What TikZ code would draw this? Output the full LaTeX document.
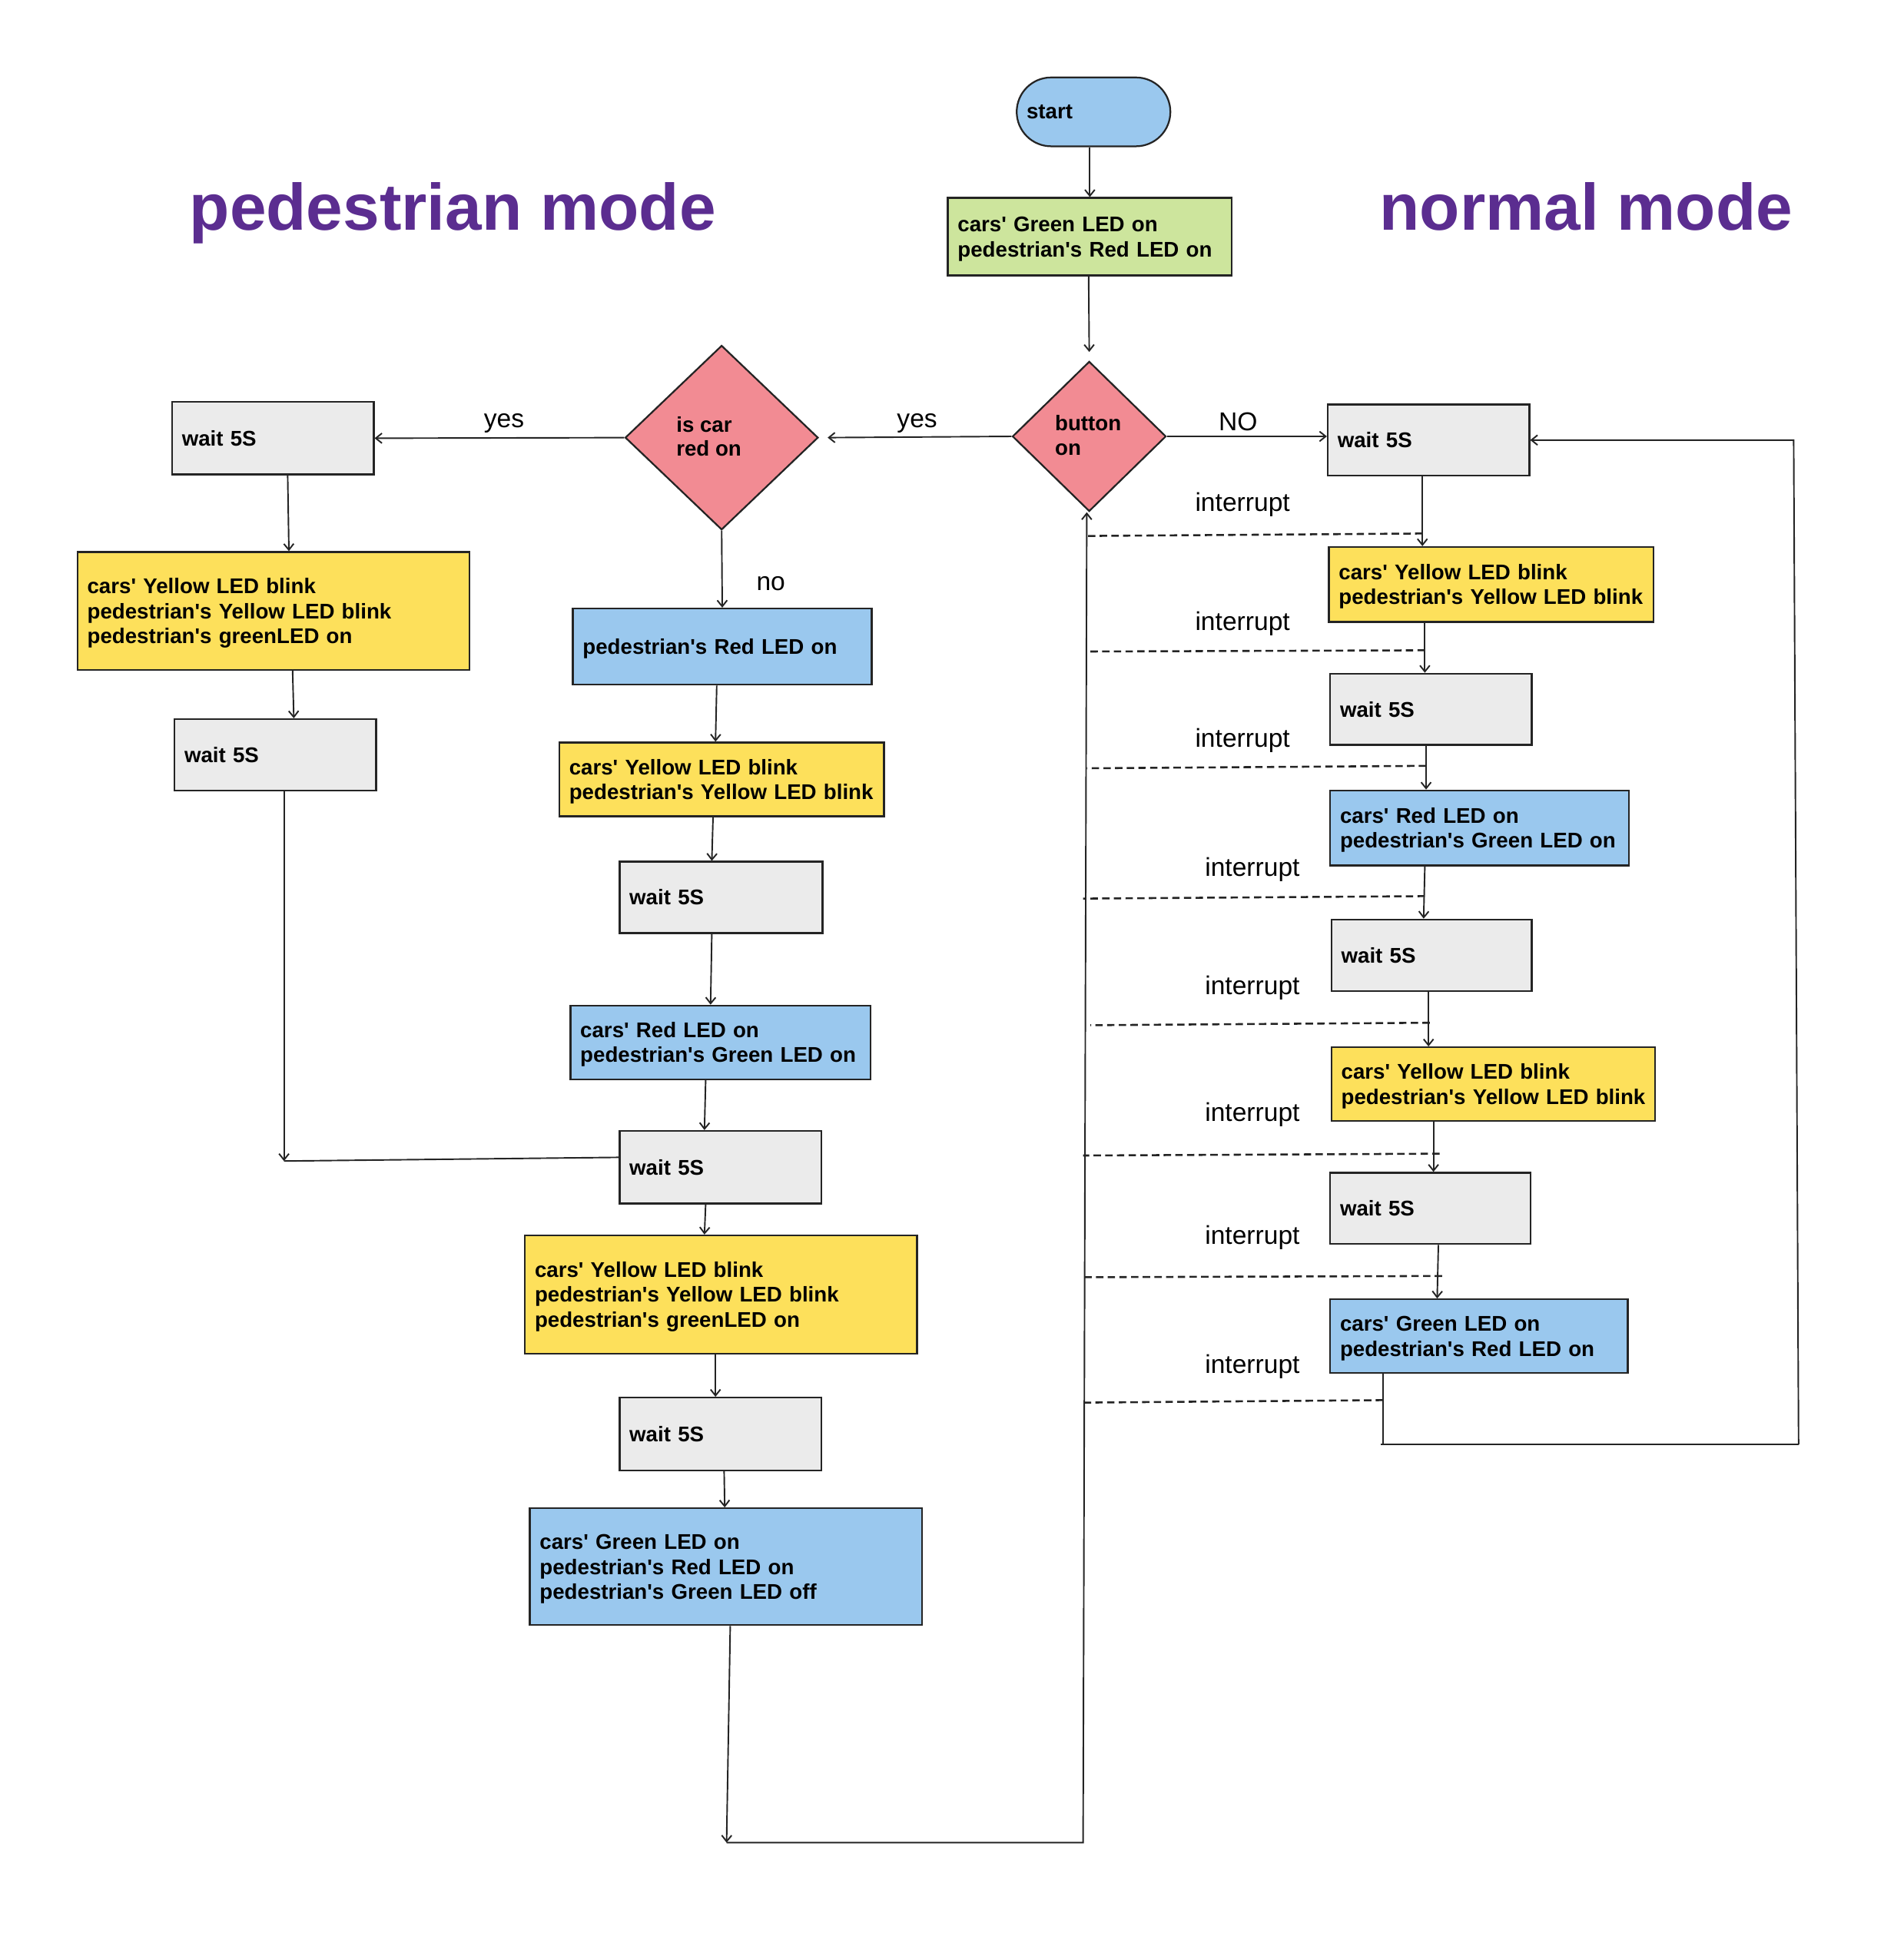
\documentclass[tikz,border=0pt]{standalone}
\usepackage{fontspec}
\setmainfont{Liberation Sans}
\usetikzlibrary{shapes.geometric,arrows.meta}
\definecolor{cblue}{HTML}{9AC8EE}
\definecolor{cgreen}{HTML}{CDE59D}
\definecolor{cyellow}{HTML}{FDE05B}
\definecolor{cgray}{HTML}{EBEBEB}
\definecolor{cpink}{HTML}{F28B93}
\definecolor{cstroke}{HTML}{242424}
\definecolor{cpurple}{HTML}{5B2D90}
\newcommand{\ap}{\textquotesingle}
\begin{document}
\begin{tikzpicture}[x=1pt,y=-1pt,
  box/.style={draw=cstroke, line width=1.4pt, rectangle, inner xsep=8pt, inner ysep=0pt,
    align=left, font=\bfseries\fontsize{17.3}{20.2}\selectfont, text=black},
  ml/.style={execute at begin node={\rule{0pt}{16pt}}},
  dia/.style={draw=cstroke, line width=1.4pt, diamond, fill=cpink, inner sep=0pt},
  dtxt/.style={align=left, inner sep=0pt, font=\bfseries\fontsize{17.3}{19.8}\selectfont, anchor=west},
  lbl/.style={font=\fontsize{21}{24}\selectfont, inner sep=0pt},
  ttl/.style={font=\bfseries\fontsize{53.5}{60}\selectfont, text=cpurple, inner sep=0pt, anchor=base west},
  conn/.style={draw=cstroke, line width=1.2pt},
  arr/.style={conn, -{Straight Barb[length=5pt,width=8pt]}},
  dsh/.style={draw=cstroke, line width=1.6pt, dash pattern=on 6pt off 3.5pt}
]
\useasboundingbox (0,0) rectangle (1548.75,1572.5);

% titles
\node[ttl] (t1) at (154,187) {pedestrian mode};
\node[ttl] (t2) at (1122,187) {normal mode};

% top
\node[box, fill=cblue, rounded corners=28pt, minimum width=125pt, minimum height=56pt, text width=109pt] (start) at (889.5,91) {start};
\node[box, ml, fill=cgreen, minimum width=231pt, minimum height=63pt, text width=215pt] (G) at (886.5,192.5) {cars\ap{} Green LED on\\pedestrian\ap{}s Red LED on};

% diamonds
\node[dia, minimum width=125pt, minimum height=122pt] (btn) at (886,355) {};
\node[dtxt] (btnt) at (858,354) {button\\on};
\node[dia, minimum width=157pt, minimum height=150pt] (car) at (587,356) {};
\node[dtxt] (cart) at (550,355) {is car\\red on};

% left column
\node[box, fill=cgray, minimum width=164pt, minimum height=59pt, text width=148pt] (Lw1) at (222,356.5) {wait 5S};
\node[box, ml, fill=cyellow, minimum width=319pt, minimum height=96pt, text width=303pt] (Ly) at (222.5,497) {cars\ap{} Yellow LED blink\\pedestrian\ap{}s Yellow LED blink\\pedestrian\ap{}s greenLED on};
\node[box, fill=cgray, minimum width=164pt, minimum height=58pt, text width=148pt] (Lw2) at (224,614) {wait 5S};

% center column
\node[box, ml, fill=cblue, minimum width=243pt, minimum height=62pt, text width=227pt] (C1) at (587.5,526) {pedestrian\ap{}s Red LED on};
\node[box, ml, fill=cyellow, minimum width=264pt, minimum height=60pt, text width=248pt] (C2) at (587,634) {cars\ap{} Yellow LED blink\\\mbox{pedestrian\ap{}s Yellow LED blink}};
\node[box, fill=cgray, minimum width=165pt, minimum height=58pt, text width=149pt] (C3) at (586.5,730) {wait 5S};
\node[box, ml, fill=cblue, minimum width=244pt, minimum height=60pt, text width=228pt] (C4) at (586,848) {cars\ap{} Red LED on\\pedestrian\ap{}s Green LED on};
\node[box, fill=cgray, minimum width=164pt, minimum height=59pt, text width=148pt] (C5) at (586,949.5) {wait 5S};
\node[box, ml, fill=cyellow, minimum width=319pt, minimum height=96pt, text width=303pt] (C6) at (586.5,1053) {cars\ap{} Yellow LED blink\\pedestrian\ap{}s Yellow LED blink\\pedestrian\ap{}s greenLED on};
\node[box, fill=cgray, minimum width=164pt, minimum height=59pt, text width=148pt] (C7) at (586,1166.5) {wait 5S};
\node[box, ml, fill=cblue, minimum width=319pt, minimum height=95pt, text width=303pt] (C8) at (590.5,1274.5) {cars\ap{} Green LED on\\pedestrian\ap{}s Red LED on\\pedestrian\ap{}s Green LED off};

% right column
\node[box, fill=cgray, minimum width=164pt, minimum height=58pt, text width=148pt] (R1) at (1162,358) {wait 5S};
\node[box, ml, fill=cyellow, minimum width=264pt, minimum height=61pt, text width=248pt] (R2) at (1213,475.5) {cars\ap{} Yellow LED blink\\\mbox{pedestrian\ap{}s Yellow LED blink}};
\node[box, fill=cgray, minimum width=164pt, minimum height=58pt, text width=148pt] (R3) at (1164,577) {wait 5S};
\node[box, ml, fill=cblue, minimum width=243pt, minimum height=61pt, text width=227pt] (R4) at (1203.5,673.5) {cars\ap{} Red LED on\\pedestrian\ap{}s Green LED on};
\node[box, fill=cgray, minimum width=163pt, minimum height=58pt, text width=147pt] (R5) at (1164.5,777) {wait 5S};
\node[box, ml, fill=cyellow, minimum width=263pt, minimum height=60pt, text width=247pt] (R6) at (1214.5,882) {cars\ap{} Yellow LED blink\\\mbox{pedestrian\ap{}s Yellow LED blink}};
\node[box, fill=cgray, minimum width=163pt, minimum height=58pt, text width=147pt] (R7) at (1163.5,983) {wait 5S};
\node[box, ml, fill=cblue, minimum width=242pt, minimum height=60pt, text width=226pt] (R8) at (1203,1087) {cars\ap{} Green LED on\\pedestrian\ap{}s Red LED on};

% connectors top
\draw[arr] ([xshift=-3pt]start.south) -- (G.north);
\draw[arr] ([xshift=-1pt]G.south) -- ([yshift=7pt]btn.north);
\draw[arr] (btn.west) -- ([xshift=7pt]car.east);
\draw[arr] (btn.east) -- ([yshift=3pt]R1.west);
\draw[arr] (car.west) -- (Lw1.east);
\draw[arr] (car.south) -- (C1.north);

% labels
\node[lbl, anchor=base] (yes1) at (746,347.5) {yes};
\node[lbl, anchor=base] (yes2) at (410,348) {yes};
\node[lbl, anchor=base] (NO) at (1007,350) {NO};
\node[lbl, anchor=base] (no) at (627,480) {no};

% left column connectors
\coordinate (J) at (231,944.5);
\draw[arr] ([xshift=12pt]Lw1.south) -- ([xshift=12.5pt]Ly.north);
\draw[arr] ([xshift=15.5pt]Ly.south) -- ([xshift=15pt]Lw2.north);
\draw[arr] ([xshift=7pt]Lw2.south) -- (J);
\draw[conn] ([yshift=8pt]C5.west) -- (J);

% center column connectors
\draw[arr] ([xshift=-4.5pt]C1.south) -- ([xshift=-5pt]C2.north);
\draw[arr] ([xshift=-7pt]C2.south) -- ([xshift=-7.5pt]C3.north);
\draw[arr] ([xshift=-7.5pt]C3.south) -- ([xshift=-8pt]C4.north);
\draw[arr] ([xshift=-12pt]C4.south) -- ([xshift=-13pt]C5.north);
\draw[arr] ([xshift=-12pt]C5.south) -- ([xshift=-13.5pt]C6.north);
\draw[arr] ([xshift=-4.5pt]C6.south) -- ([xshift=-4pt]C7.north);
\draw[arr] ([xshift=3pt]C7.south) -- ([xshift=-1pt]C8.north);
\coordinate (b1) at (591,1499);
\coordinate (b2) at (881,1499);
\draw[arr] ([xshift=3.5pt]C8.south) -- (b1);
\draw[arr] (b1) -- (b2) -- ([xshift=-2pt]btn.south);

% right column connectors
\draw[arr] ([xshift=-5pt]R1.south) -- ([xshift=-56pt]R2.north);
\draw[arr] ([xshift=-54pt]R2.south) -- ([xshift=-5pt]R3.north);
\draw[arr] ([xshift=-4pt]R3.south) -- ([xshift=-43.5pt]R4.north);
\draw[arr] ([xshift=-44.5pt]R4.south) -- ([xshift=-6.5pt]R5.north);
\draw[arr] ([xshift=-2.5pt]R5.south) -- ([xshift=-52.5pt]R6.north);
\draw[arr] ([xshift=-48.5pt]R6.south) -- ([xshift=2.5pt]R7.north);
\draw[arr] ([xshift=6.5pt]R7.south) -- ([xshift=-34pt]R8.north);
\coordinate (r1) at (1125,1175);
\coordinate (r2) at (1463,1175);
\coordinate (r3) at (1459,358);
\draw[conn] ([xshift=-78pt]R8.south) -- (r1);
\draw[conn] ([xshift=-2pt]r1) -- (r2);
\draw[arr] (r2) -- (r3) -- (R1.east);

% interrupt dashed lines
\coordinate (d1r) at (1157,434);  \coordinate (d1l) at (884,436);
\coordinate (d2r) at (1159,529);  \coordinate (d2l) at (884,530);
\coordinate (d3r) at (1160,623);  \coordinate (d3l) at (884,625);
\coordinate (d4r) at (1159,729);  \coordinate (d4l) at (881,731);
\coordinate (d5r) at (1163,832);  \coordinate (d5l) at (887,834);
\coordinate (d6r) at (1171,938.5);\coordinate (d6l) at (881,940);
\coordinate (d7r) at (1173,1038); \coordinate (d7l) at (882.5,1039);
\coordinate (d8r) at (1125,1139); \coordinate (d8l) at (882,1141);
\foreach \i in {1,...,8} {\draw[dsh] (d\i r) -- (d\i l);}

\node[lbl, anchor=base west] (i1) at (972,416) {interrupt};
\node[lbl, anchor=base west] (i2) at (972,513) {interrupt};
\node[lbl, anchor=base west] (i3) at (972,608) {interrupt};
\node[lbl, anchor=base west] (i4) at (980,713) {interrupt};
\node[lbl, anchor=base west] (i5) at (980,809) {interrupt};
\node[lbl, anchor=base west] (i6) at (980,912) {interrupt};
\node[lbl, anchor=base west] (i7) at (980,1012) {interrupt};
\node[lbl, anchor=base west] (i8) at (980,1117) {interrupt};
\end{tikzpicture}
\end{document}
